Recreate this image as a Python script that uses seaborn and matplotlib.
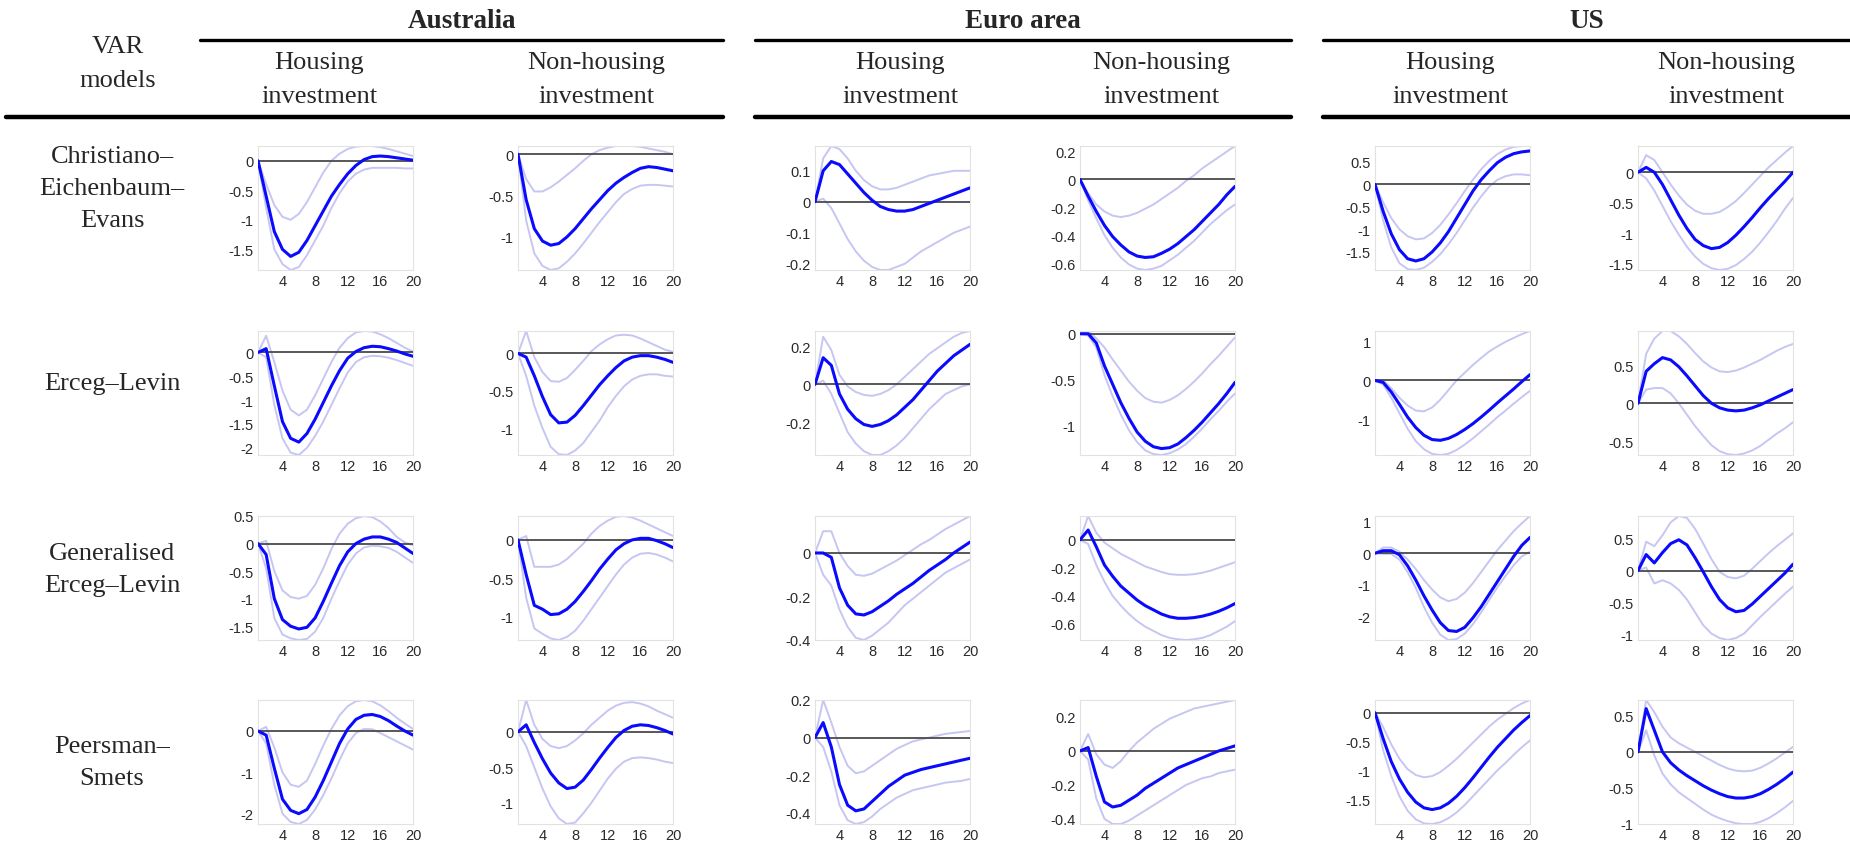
import numpy as np
import pandas as pd
import matplotlib
matplotlib.use("Agg")
import matplotlib.pyplot as plt
import seaborn as sns

# ---------------------------------------------------------------------------
# Impulse responses to a monetary policy shock (per cent), horizons 1..20.
# Each panel: (point estimate, lower band, upper band)
# ---------------------------------------------------------------------------
horizons = list(range(1, 21))

countries = ["Australia", "Euro area", "US"]
variables = ["Housing\ninvestment", "Non-housing\ninvestment"]
models = ["Christiano–\nEichenbaum–\nEvans", "Erceg–Levin",
          "Generalised\nErceg–Levin", "Peersman–\nSmets"]

# --- Christiano–Eichenbaum–Evans ---
cee_au_h = (
    [0, -0.6, -1.2, -1.5, -1.62, -1.55, -1.35, -1.1, -0.85, -0.6, -0.4, -0.22, -0.08, 0.02, 0.07, 0.08, 0.07, 0.05, 0.03, 0.01],
    [0, -0.8, -1.5, -1.75, -1.85, -1.8, -1.6, -1.35, -1.1, -0.8, -0.55, -0.35, -0.22, -0.15, -0.12, -0.12, -0.12, -0.12, -0.13, -0.13],
    [0, -0.4, -0.75, -0.95, -1.0, -0.9, -0.7, -0.45, -0.2, 0.0, 0.12, 0.2, 0.24, 0.25, 0.25, 0.23, 0.2, 0.16, 0.12, 0.08],
)
cee_au_n = (
    [0, -0.55, -0.9, -1.05, -1.1, -1.08, -1.0, -0.9, -0.78, -0.66, -0.55, -0.44, -0.35, -0.28, -0.22, -0.17, -0.15, -0.16, -0.18, -0.2],
    [0, -0.8, -1.2, -1.35, -1.4, -1.38, -1.3, -1.2, -1.08, -0.95, -0.82, -0.7, -0.58, -0.48, -0.42, -0.38, -0.37, -0.37, -0.38, -0.39],
    [0, -0.3, -0.45, -0.45, -0.4, -0.33, -0.25, -0.17, -0.08, 0.0, 0.05, 0.08, 0.1, 0.1, 0.1, 0.09, 0.07, 0.05, 0.03, 0.0],
)
cee_eu_h = (
    [0, 0.1, 0.13, 0.12, 0.09, 0.06, 0.03, 0.005, -0.015, -0.025, -0.03, -0.03, -0.025, -0.015, -0.005, 0.005, 0.015, 0.025, 0.035, 0.045],
    [0, 0.01, -0.02, -0.07, -0.12, -0.16, -0.19, -0.21, -0.22, -0.22, -0.21, -0.2, -0.18, -0.16, -0.145, -0.13, -0.115, -0.1, -0.09, -0.08],
    [0, 0.14, 0.18, 0.17, 0.14, 0.1, 0.07, 0.05, 0.04, 0.04, 0.045, 0.055, 0.065, 0.075, 0.085, 0.09, 0.095, 0.1, 0.1, 0.1],
)
cee_eu_n = (
    [0, -0.12, -0.23, -0.33, -0.41, -0.47, -0.52, -0.55, -0.56, -0.555, -0.53, -0.5, -0.46, -0.41, -0.36, -0.3, -0.24, -0.18, -0.11, -0.05],
    [0, -0.15, -0.28, -0.4, -0.49, -0.56, -0.61, -0.64, -0.65, -0.64, -0.62, -0.58, -0.54, -0.49, -0.44, -0.38, -0.32, -0.27, -0.22, -0.18],
    [0, -0.1, -0.18, -0.23, -0.26, -0.27, -0.26, -0.24, -0.21, -0.18, -0.14, -0.1, -0.06, -0.01, 0.03, 0.08, 0.12, 0.16, 0.2, 0.24],
)
cee_us_h = (
    [0, -0.6, -1.1, -1.45, -1.65, -1.7, -1.65, -1.5, -1.3, -1.05, -0.75, -0.45, -0.15, 0.1, 0.3, 0.48, 0.6, 0.68, 0.72, 0.74],
    [0, -0.8, -1.4, -1.75, -1.88, -1.9, -1.85, -1.72, -1.55, -1.33, -1.08, -0.8, -0.52, -0.27, -0.05, 0.1, 0.18, 0.22, 0.22, 0.2],
    [0, -0.4, -0.75, -1.0, -1.15, -1.22, -1.2, -1.08, -0.9, -0.67, -0.42, -0.15, 0.1, 0.33, 0.52, 0.67, 0.77, 0.83, 0.85, 0.85],
)
cee_us_n = (
    [0, 0.08, 0.0, -0.2, -0.45, -0.7, -0.92, -1.1, -1.2, -1.25, -1.23, -1.15, -1.03, -0.89, -0.74, -0.58, -0.43, -0.29, -0.15, 0.0],
    [0, -0.1, -0.3, -0.55, -0.8, -1.02, -1.22, -1.38, -1.5, -1.57, -1.6, -1.58, -1.52, -1.42, -1.3, -1.15, -0.98, -0.8, -0.6, -0.42],
    [0, 0.28, 0.2, 0.0, -0.2, -0.38, -0.53, -0.63, -0.68, -0.68, -0.65, -0.57, -0.47, -0.34, -0.2, -0.06, 0.08, 0.2, 0.32, 0.43],
)

# --- Erceg–Levin ---
el_au_h = (
    [0, 0.08, -0.7, -1.45, -1.8, -1.88, -1.7, -1.4, -1.05, -0.7, -0.38, -0.12, 0.02, 0.1, 0.13, 0.12, 0.08, 0.03, -0.03, -0.08],
    [0, -0.1, -1.1, -1.8, -2.1, -2.15, -2.0, -1.75, -1.45, -1.1, -0.75, -0.42, -0.2, -0.1, -0.07, -0.08, -0.11, -0.16, -0.22, -0.28],
    [0, 0.35, -0.2, -0.8, -1.2, -1.32, -1.2, -0.9, -0.55, -0.2, 0.1, 0.3, 0.42, 0.45, 0.44, 0.38, 0.3, 0.2, 0.1, 0.02],
)
el_au_n = (
    [0, -0.05, -0.3, -0.58, -0.82, -0.93, -0.92, -0.83, -0.7, -0.56, -0.42, -0.3, -0.19, -0.1, -0.05, -0.03, -0.03, -0.05, -0.08, -0.12],
    [0, -0.3, -0.7, -1.0, -1.25, -1.35, -1.36, -1.3, -1.2, -1.05, -0.9, -0.72, -0.57, -0.44, -0.35, -0.3, -0.28, -0.28, -0.3, -0.31],
    [0, 0.3, -0.05, -0.25, -0.37, -0.38, -0.33, -0.22, -0.1, 0.03, 0.12, 0.19, 0.24, 0.25, 0.24, 0.2, 0.15, 0.1, 0.05, 0.02],
)
el_eu_h = (
    [0, 0.14, 0.1, -0.05, -0.13, -0.18, -0.21, -0.22, -0.21, -0.19, -0.16, -0.12, -0.08, -0.03, 0.02, 0.07, 0.11, 0.15, 0.18, 0.21],
    [0, 0.02, -0.05, -0.15, -0.25, -0.31, -0.35, -0.37, -0.37, -0.35, -0.32, -0.28, -0.23, -0.18, -0.13, -0.09, -0.05, -0.03, -0.01, 0.0],
    [0, 0.25, 0.18, 0.05, -0.01, -0.04, -0.055, -0.06, -0.05, -0.03, 0.0, 0.04, 0.08, 0.12, 0.16, 0.19, 0.22, 0.25, 0.27, 0.28],
)
el_eu_n = (
    [0, 0.0, -0.1, -0.35, -0.55, -0.75, -0.92, -1.07, -1.17, -1.23, -1.25, -1.24, -1.2, -1.13, -1.05, -0.96, -0.86, -0.76, -0.65, -0.53],
    [0, -0.02, -0.15, -0.45, -0.68, -0.88, -1.05, -1.18, -1.27, -1.31, -1.32, -1.3, -1.26, -1.2, -1.12, -1.03, -0.93, -0.84, -0.74, -0.65],
    [0, 0.03, -0.05, -0.15, -0.28, -0.4, -0.52, -0.62, -0.7, -0.74, -0.75, -0.72, -0.67, -0.6, -0.52, -0.43, -0.33, -0.24, -0.14, -0.04],
)
el_us_h = (
    [0, -0.05, -0.3, -0.62, -0.95, -1.22, -1.42, -1.53, -1.55, -1.5, -1.4, -1.27, -1.12, -0.95, -0.77, -0.58, -0.4, -0.22, -0.03, 0.15],
    [0, -0.1, -0.45, -0.85, -1.25, -1.57, -1.78, -1.9, -1.93, -1.9, -1.8, -1.66, -1.5, -1.32, -1.14, -0.95, -0.78, -0.6, -0.43, -0.27],
    [0, 0.0, -0.2, -0.45, -0.65, -0.78, -0.8, -0.7, -0.5, -0.25, 0.0, 0.2, 0.4, 0.58, 0.75, 0.88, 1.0, 1.1, 1.2, 1.28],
)
el_us_n = (
    [0, 0.42, 0.52, 0.6, 0.57, 0.48, 0.36, 0.23, 0.1, 0.0, -0.06, -0.09, -0.1, -0.09, -0.06, -0.02, 0.03, 0.08, 0.13, 0.18],
    [0, 0.18, 0.2, 0.2, 0.13, 0.0, -0.15, -0.3, -0.43, -0.55, -0.63, -0.67, -0.68, -0.66, -0.62, -0.56, -0.48, -0.4, -0.33, -0.25],
    [0, 0.65, 0.85, 0.95, 0.95, 0.88, 0.78, 0.66, 0.55, 0.47, 0.42, 0.41, 0.43, 0.47, 0.52, 0.57, 0.63, 0.69, 0.74, 0.78],
)

# --- Generalised Erceg–Levin ---
gel_au_h = (
    [0, -0.2, -1.0, -1.38, -1.5, -1.55, -1.52, -1.35, -1.05, -0.72, -0.4, -0.15, 0.0, 0.08, 0.12, 0.12, 0.08, 0.02, -0.08, -0.18],
    [0, -0.45, -1.35, -1.65, -1.72, -1.75, -1.73, -1.6, -1.35, -1.0, -0.68, -0.38, -0.18, -0.07, -0.04, -0.05, -0.08, -0.15, -0.25, -0.35],
    [0, 0.05, -0.5, -0.85, -0.97, -1.0, -0.95, -0.75, -0.45, -0.1, 0.18, 0.36, 0.46, 0.5, 0.48, 0.4, 0.28, 0.12, 0.02, -0.03],
)
gel_au_n = (
    [0, -0.45, -0.85, -0.9, -0.97, -0.96, -0.9, -0.8, -0.67, -0.53, -0.38, -0.25, -0.13, -0.05, 0.0, 0.02, 0.02, -0.01, -0.05, -0.1],
    [0, -0.75, -1.15, -1.22, -1.28, -1.3, -1.26, -1.18, -1.05, -0.9, -0.75, -0.6, -0.45, -0.32, -0.23, -0.18, -0.17, -0.19, -0.23, -0.28],
    [0, 0.05, -0.35, -0.35, -0.35, -0.32, -0.25, -0.15, -0.05, 0.08, 0.18, 0.25, 0.3, 0.31, 0.29, 0.25, 0.2, 0.15, 0.1, 0.05],
)
gel_eu_h = (
    [0, 0.0, -0.02, -0.16, -0.24, -0.28, -0.285, -0.27, -0.245, -0.22, -0.19, -0.165, -0.14, -0.11, -0.08, -0.055, -0.03, 0.0, 0.025, 0.05],
    [0, -0.1, -0.15, -0.26, -0.34, -0.39, -0.4, -0.38, -0.35, -0.32, -0.28, -0.24, -0.21, -0.18, -0.15, -0.12, -0.09, -0.07, -0.05, -0.03],
    [0, 0.1, 0.1, 0.0, -0.06, -0.1, -0.105, -0.095, -0.075, -0.055, -0.035, -0.01, 0.015, 0.04, 0.06, 0.085, 0.11, 0.13, 0.15, 0.17],
)
gel_eu_n = (
    [0, 0.07, -0.05, -0.18, -0.26, -0.33, -0.38, -0.43, -0.47, -0.5, -0.53, -0.55, -0.56, -0.56, -0.555, -0.545, -0.53, -0.51, -0.485, -0.455],
    [0, -0.03, -0.18, -0.3, -0.4, -0.47, -0.53, -0.58, -0.62, -0.65, -0.68, -0.7, -0.71, -0.715, -0.71, -0.7, -0.68, -0.65, -0.62, -0.58],
    [0, 0.17, 0.05, -0.02, -0.06, -0.1, -0.13, -0.16, -0.19, -0.21, -0.23, -0.245, -0.25, -0.25, -0.245, -0.235, -0.22, -0.2, -0.18, -0.16],
)
gel_us_h = (
    [0, 0.08, 0.08, -0.05, -0.4, -0.85, -1.35, -1.8, -2.2, -2.45, -2.48, -2.35, -2.05, -1.7, -1.3, -0.9, -0.5, -0.1, 0.25, 0.5],
    [0, -0.02, -0.02, -0.2, -0.6, -1.1, -1.7, -2.2, -2.58, -2.75, -2.72, -2.55, -2.25, -1.88, -1.48, -1.08, -0.72, -0.38, -0.1, 0.05],
    [0, 0.18, 0.18, 0.05, -0.2, -0.5, -0.85, -1.15, -1.4, -1.52, -1.45, -1.25, -0.95, -0.6, -0.25, 0.1, 0.4, 0.7, 0.95, 1.18],
)
gel_us_n = (
    [0, 0.25, 0.12, 0.28, 0.42, 0.48, 0.4, 0.2, -0.02, -0.25, -0.45, -0.58, -0.64, -0.62, -0.52, -0.4, -0.28, -0.16, -0.04, 0.1],
    [0, 0.05, -0.2, -0.15, -0.2, -0.3, -0.45, -0.65, -0.85, -0.98, -1.05, -1.08, -1.05, -0.98, -0.85, -0.72, -0.6, -0.48, -0.36, -0.25],
    [0, 0.45, 0.38, 0.55, 0.75, 0.85, 0.82, 0.65, 0.42, 0.18, -0.02, -0.1, -0.12, -0.08, 0.03, 0.15, 0.27, 0.38, 0.48, 0.58],
)

# --- Peersman–Smets ---
ps_au_h = (
    [0, -0.1, -0.9, -1.65, -1.92, -2.0, -1.9, -1.6, -1.2, -0.75, -0.3, 0.05, 0.28, 0.38, 0.4, 0.35, 0.25, 0.12, 0.0, -0.1],
    [0, -0.3, -1.3, -2.0, -2.2, -2.25, -2.15, -1.9, -1.55, -1.15, -0.7, -0.3, -0.05, 0.05, 0.04, -0.05, -0.15, -0.25, -0.35, -0.45],
    [0, 0.1, -0.4, -1.0, -1.3, -1.35, -1.2, -0.8, -0.35, 0.05, 0.38, 0.6, 0.72, 0.75, 0.72, 0.62, 0.48, 0.32, 0.18, 0.05],
)
ps_au_n = (
    [0, 0.1, -0.15, -0.38, -0.58, -0.72, -0.8, -0.78, -0.68, -0.53, -0.37, -0.22, -0.08, 0.02, 0.08, 0.1, 0.09, 0.06, 0.02, -0.03],
    [0, -0.2, -0.5, -0.8, -1.05, -1.22, -1.3, -1.28, -1.15, -1.0, -0.83, -0.66, -0.52, -0.42, -0.37, -0.36, -0.37, -0.39, -0.42, -0.44],
    [0, 0.45, 0.1, -0.1, -0.2, -0.23, -0.2, -0.12, -0.02, 0.1, 0.2, 0.3, 0.37, 0.41, 0.42, 0.4, 0.36, 0.3, 0.25, 0.2],
)
ps_eu_h = (
    [0, 0.08, -0.05, -0.25, -0.36, -0.39, -0.38, -0.34, -0.3, -0.26, -0.23, -0.2, -0.185, -0.17, -0.16, -0.15, -0.14, -0.13, -0.12, -0.11],
    [0, -0.05, -0.18, -0.36, -0.44, -0.46, -0.45, -0.42, -0.38, -0.35, -0.32, -0.3, -0.28, -0.27, -0.26, -0.25, -0.24, -0.235, -0.23, -0.22],
    [0, 0.2, 0.08, -0.05, -0.15, -0.19, -0.18, -0.15, -0.12, -0.09, -0.06, -0.04, -0.02, -0.01, 0.0, 0.01, 0.02, 0.025, 0.03, 0.035],
)
ps_eu_n = (
    [0, 0.02, -0.15, -0.3, -0.33, -0.32, -0.29, -0.26, -0.22, -0.19, -0.16, -0.13, -0.1, -0.08, -0.06, -0.04, -0.02, 0.0, 0.015, 0.03],
    [0, -0.05, -0.28, -0.4, -0.43, -0.43, -0.41, -0.38, -0.35, -0.32, -0.29, -0.26, -0.23, -0.2, -0.18, -0.16, -0.15, -0.13, -0.12, -0.11],
    [0, 0.1, -0.02, -0.08, -0.1, -0.06, 0.0, 0.05, 0.09, 0.13, 0.16, 0.19, 0.21, 0.23, 0.25, 0.26, 0.27, 0.28, 0.29, 0.3],
)
ps_us_h = (
    [0, -0.45, -0.85, -1.15, -1.38, -1.55, -1.65, -1.68, -1.65, -1.57, -1.45, -1.3, -1.13, -0.95, -0.77, -0.6, -0.45, -0.3, -0.17, -0.05],
    [0, -0.65, -1.1, -1.45, -1.7, -1.85, -1.92, -1.93, -1.9, -1.83, -1.73, -1.6, -1.45, -1.3, -1.15, -1.0, -0.87, -0.73, -0.6, -0.48],
    [0, -0.25, -0.55, -0.8, -0.98, -1.08, -1.12, -1.1, -1.03, -0.92, -0.8, -0.66, -0.52, -0.38, -0.24, -0.12, -0.02, 0.08, 0.16, 0.22],
)
ps_us_n = (
    [0, 0.6, 0.3, 0.0, -0.15, -0.25, -0.33, -0.4, -0.47, -0.53, -0.58, -0.62, -0.64, -0.64, -0.62, -0.58, -0.52, -0.45, -0.37, -0.28],
    [0, 0.3, -0.05, -0.3, -0.45, -0.56, -0.64, -0.72, -0.8, -0.87, -0.92, -0.96, -0.99, -1.0, -1.0, -0.97, -0.92, -0.85, -0.77, -0.68],
    [0, 0.72, 0.55, 0.35, 0.2, 0.12, 0.06, 0.0, -0.06, -0.12, -0.18, -0.23, -0.26, -0.27, -0.26, -0.22, -0.16, -0.09, -0.01, 0.07],
)

panels = [
    [cee_au_h, cee_au_n, cee_eu_h, cee_eu_n, cee_us_h, cee_us_n],
    [el_au_h, el_au_n, el_eu_h, el_eu_n, el_us_h, el_us_n],
    [gel_au_h, gel_au_n, gel_eu_h, gel_eu_n, gel_us_h, gel_us_n],
    [ps_au_h, ps_au_n, ps_eu_h, ps_eu_n, ps_us_h, ps_us_n],
]

# y tick values shown on each panel
yticks_cee = [[0, -0.5, -1, -1.5], [0, -0.5, -1], [0.1, 0, -0.1, -0.2],
              [0.2, 0, -0.2, -0.4, -0.6], [0.5, 0, -0.5, -1, -1.5], [0, -0.5, -1, -1.5]]
yticks_el = [[0, -0.5, -1, -1.5, -2], [0, -0.5, -1], [0.2, 0, -0.2],
             [0, -0.5, -1], [1, 0, -1], [0.5, 0, -0.5]]
yticks_gel = [[0.5, 0, -0.5, -1, -1.5], [0, -0.5, -1], [0, -0.2, -0.4],
              [0, -0.2, -0.4, -0.6], [1, 0, -1, -2], [0.5, 0, -0.5, -1]]
yticks_ps = [[0, -1, -2], [0, -0.5, -1], [0.2, 0, -0.2, -0.4],
             [0.2, 0, -0.2, -0.4], [0, -0.5, -1, -1.5], [0.5, 0, -0.5, -1]]
yticks_all = [yticks_cee, yticks_el, yticks_gel, yticks_ps]
xticks = [4, 8, 12, 16, 20]

# ---------------------------------------------------------------------------
sns.set_theme(style="white")
plt.rcParams["font.family"] = ["Liberation Sans", "DejaVu Sans"]
plt.rcParams["axes.unicode_minus"] = False

W, H = 1850, 854
fig = plt.figure(figsize=(W / 100, H / 100), dpi=100)
fig.patch.set_facecolor("white")

serif = ["Liberation Serif", "DejaVu Serif"]

col_left = [258, 518, 815, 1080, 1375, 1638]
row_top = [147, 332, 517, 701]
ax_w, ax_h = 155, 124

MID = "#0a0aff"
BAND = "#c6c6f2"
ZERO = "#4a4a4a"


def px_rect(left, top, w, h):
    return [left / W, 1 - (top + h) / H, w / W, h / H]


for r in range(4):
    for c in range(6):
        mid, lo, hi = panels[r][c]
        df = pd.DataFrame({
            "horizon": horizons * 3,
            "value": list(mid) + list(lo) + list(hi),
            "series": ["mid"] * 20 + ["lo"] * 20 + ["hi"] * 20,
        })
        ax = fig.add_axes(px_rect(col_left[c], row_top[r], ax_w, ax_h))
        for name in ["lo", "hi"]:
            sns.lineplot(data=df[df.series == name], x="horizon", y="value",
                         color=BAND, linewidth=1.4, ax=ax, legend=False)
        ax.axhline(0, color=ZERO, linewidth=1.3, zorder=3)
        sns.lineplot(data=df[df.series == "mid"], x="horizon", y="value",
                     color=MID, linewidth=2.2, ax=ax, legend=False, zorder=4)
        ax.set_xlim(1, 20)
        ax.set_ylim(df.value.min(), df.value.max())
        ax.set_xticks(xticks)
        ax.set_xticklabels([str(t) for t in xticks])
        yt = yticks_all[r][c]
        ax.set_yticks(yt)
        ax.set_yticklabels([f"{v:g}" for v in yt])
        ax.tick_params(axis="both", length=0, labelsize=10.5, colors="#2a2a2a", pad=3)
        ax.set_xlabel("")
        ax.set_ylabel("")
        for sp in ax.spines.values():
            sp.set_color("#e2e2e2")
            sp.set_linewidth(0.8)

# ---------------------------------------------------------------------------
# Table header


def fx(x):
    return x / W


def fy(y):
    return 1 - y / H


fig.text(fx(118), fy(64), "VAR\nmodels", ha="center", va="center",
         fontsize=19, family=serif, linespacing=1.65)

country_spans = [(200, 723), (755, 1291), (1323, 1850)]
for name, (a, b) in zip(countries, country_spans):
    fig.text(fx((a + b) / 2), fy(22), name, ha="center", va="center",
             fontsize=19.5, fontweight="bold", family=serif)
    fig.add_artist(plt.Line2D([fx(a), fx(b)], [fy(41), fy(41)],
                              color="black", linewidth=2.4))

header_x = [319, 596, 900, 1161, 1450, 1726]
for i, x in enumerate(header_x):
    fig.text(fx(x), fy(80), variables[i % 2], ha="center", va="center",
             fontsize=19, family=serif, linespacing=1.65)

rule_spans = [(6, 723), (755, 1291), (1323, 1850)]
for a, b in rule_spans:
    fig.add_artist(plt.Line2D([fx(a), fx(b)], [fy(118), fy(118)],
                              color="black", linewidth=3.2))

row_label_y = [189, 384, 570, 763]
for lab, y in zip(models, row_label_y):
    fig.text(fx(112), fy(y), lab, ha="center", va="center",
             fontsize=19, family=serif, linespacing=1.6)

fig.savefig("out.png", dpi=100, facecolor="white")
